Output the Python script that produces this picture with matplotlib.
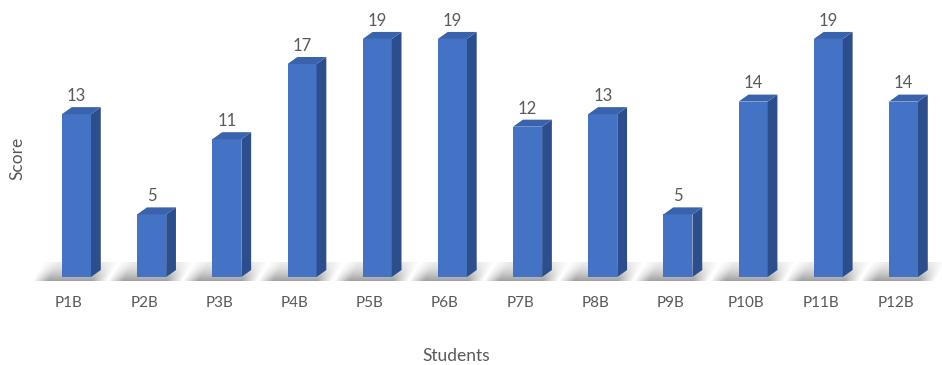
import numpy as np
import matplotlib.pyplot as plt
from matplotlib.patches import Polygon

students = ["P1B", "P2B", "P3B", "P4B", "P5B", "P6B",
            "P7B", "P8B", "P9B", "P10B", "P11B", "P12B"]
scores = [13, 5, 11, 17, 19, 19, 12, 13, 5, 14, 19, 14]

front = "#4472C4"
side = "#2D4E8C"
top = "#3A63AE"
txt = "#595959"

plt.rcParams["font.family"] = ["Lato", "DejaVu Sans"]

fig = plt.figure(figsize=(9.42, 3.65), dpi=100)
ax = fig.add_axes([0, 0, 1, 1])
ax.set_xlim(-1.0175, 11.512)
ax.set_ylim(-7.02, 22.11)
ax.axis("off")

w = 0.386
dx, dy = 0.13, 0.56
x = np.arange(len(students))

# slanted floor shadow behind each column
sx0, sx1, sy0, sy1 = -0.62, 0.65, -0.32, 1.12
gx = np.linspace(sx0, sx1, 200)
gt = np.linspace(1, 0, 40)  # image rows top->bottom
GX, GT = np.meshgrid(gx, gt)
left = -0.58 + 0.14 * GT
right = 0.40 + 0.16 * GT
fade = np.clip((GX - left) / 0.2, 0, 1) * np.clip((right - GX) / 0.2, 0, 1)
alpha = fade * (0.12 + 0.45 * (1 - GT) ** 1.5)
shadow = np.zeros(GX.shape + (4,))
shadow[..., :3] = 0.35
shadow[..., 3] = alpha
for xi in x:
    ax.imshow(shadow, extent=(xi + sx0, xi + sx1, sy0, sy1),
              aspect="auto", zorder=1, interpolation="bilinear")

ax.bar(x, scores, width=w, color=front, zorder=3)
for xi, v in zip(x, scores):
    x0, x1 = xi - w / 2, xi + w / 2
    ax.add_patch(Polygon([(x1, 0), (x1 + dx, dy), (x1 + dx, v + dy), (x1, v)],
                         closed=True, color=side, zorder=3, lw=0))
    ax.add_patch(Polygon([(x0, v), (x1, v), (x1 + dx, v + dy), (x0 + dx, v + dy)],
                         closed=True, color=top, zorder=3, lw=0))
    ax.text(xi, v + 1.45, str(v), ha="center", va="center",
            fontsize=12, color=txt)
    ax.text(xi - 0.1, -2.05, students[xi], ha="center", va="center",
            fontsize=11, color=txt)

ax.text(5.05, -6.3, "Students", ha="center", va="center", fontsize=12.5, color=txt)
ax.text(-0.78, 9.5, "Score", ha="center", va="center", rotation=90,
        fontsize=12.5, color=txt)

fig.savefig("out.png", dpi=100)
